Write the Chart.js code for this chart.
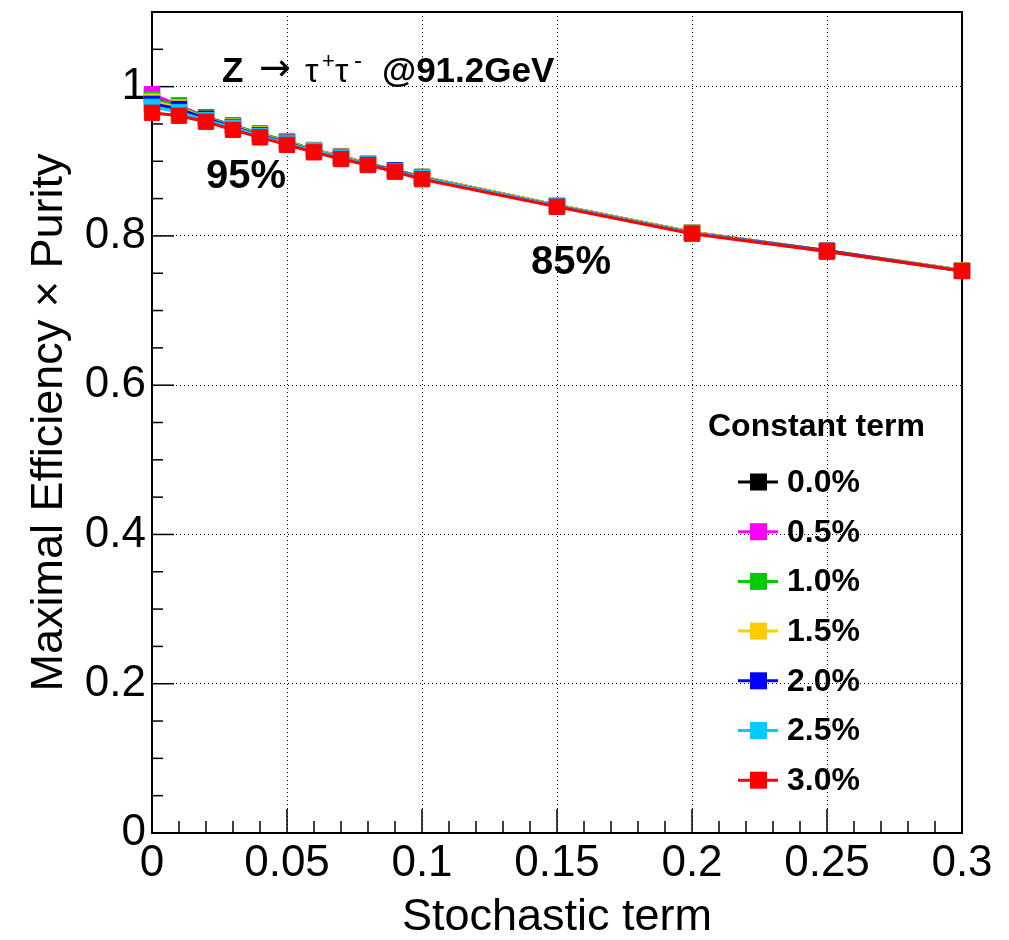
<!DOCTYPE html>
<html><head><meta charset="utf-8">
<script src="https://cdn.jsdelivr.net/npm/chart.js@4/dist/chart.umd.min.js"></script>
<style>html,body{margin:0;padding:0;background:#fff;}#wrap{width:1009px;height:940px;}</style>
</head><body><div id="wrap"><canvas id="c" width="1009" height="940"></canvas></div>
<script>
// ---- data ----
const stochastic = [0, 0.01, 0.02, 0.03, 0.04, 0.05, 0.06, 0.07, 0.08, 0.09, 0.10, 0.15, 0.20, 0.25, 0.30];
const ct00 = [0.989, 0.974, 0.959, 0.948, 0.937, 0.927, 0.915, 0.906, 0.897, 0.888, 0.879, 0.841, 0.805, 0.780, 0.754];
const ct05 = [0.990, 0.975, 0.959, 0.948, 0.937, 0.927, 0.915, 0.907, 0.897, 0.888, 0.879, 0.841, 0.805, 0.780, 0.754];
const ct10 = [0.983, 0.974, 0.958, 0.948, 0.937, 0.927, 0.915, 0.906, 0.897, 0.888, 0.879, 0.841, 0.805, 0.780, 0.754];
const ct15 = [0.980, 0.972, 0.957, 0.947, 0.936, 0.926, 0.915, 0.906, 0.897, 0.888, 0.879, 0.841, 0.805, 0.780, 0.754];
const ct20 = [0.977, 0.970, 0.957, 0.946, 0.935, 0.925, 0.914, 0.905, 0.896, 0.888, 0.878, 0.840, 0.804, 0.780, 0.753];
const ct25 = [0.973, 0.966, 0.955, 0.945, 0.934, 0.924, 0.914, 0.905, 0.896, 0.887, 0.878, 0.840, 0.804, 0.779, 0.753];
const ct30 = [0.965, 0.961, 0.953, 0.942, 0.932, 0.922, 0.912, 0.903, 0.895, 0.886, 0.876, 0.839, 0.803, 0.779, 0.753];
const seriesValues = [ct00, ct05, ct10, ct15, ct20, ct25, ct30];
const seriesLabels = ['0.0%', '0.5%', '1.0%', '1.5%', '2.0%', '2.5%', '3.0%'];
const seriesColors = ['#000000', '#ff00ff', '#00cc00', '#ffcc00', '#0000ff', '#00ccff', '#ff0000'];
const xTickValues = [0, 0.05, 0.1, 0.15, 0.2, 0.25, 0.3];
const xTickLabels = ['0', '0.05', '0.1', '0.15', '0.2', '0.25', '0.3'];
const yTickValues = [0, 0.2, 0.4, 0.6, 0.8, 1.0];
const yTickLabels = ['0', '0.2', '0.4', '0.6', '0.8', '1'];
const xTitle = 'Stochastic term';
const yTitle = 'Maximal Efficiency \u00d7 Purity';
const legendTitle = 'Constant term';
const pct95 = '95%';
const pct85 = '85%';

const FONT = '"Liberation Sans", Arial, Helvetica, sans-serif';

const datasets = seriesValues.map((vals, i) => ({
  label: seriesLabels[i],
  data: stochastic.map((x, j) => ({x: x, y: vals[j]})),
  borderColor: seriesColors[i],
  backgroundColor: seriesColors[i],
  borderWidth: 3,
  pointStyle: 'rect',
  pointRadius: 10.8,
  pointBorderWidth: 1,
  pointBorderColor: seriesColors[i],
  pointBackgroundColor: seriesColors[i],
  tension: 0,
  clip: false,
  order: seriesValues.length - 1 - i
}));

const framePlugin = {
  id: 'rootFrame',
  beforeDatasetsDraw(chart) {
    const {ctx, chartArea: a, scales: {x, y}} = chart;
    ctx.save();
    ctx.strokeStyle = '#000';
    ctx.lineWidth = 1.5;
    for (let k = 0; k <= 30; k++) {
      const px = x.getPixelForValue(k * 0.01);
      const len = (k % 5 === 0) ? 24 : 12;
      ctx.beginPath(); ctx.moveTo(px, a.bottom); ctx.lineTo(px, a.bottom - len); ctx.stroke();
    }
    for (let k = 0; k <= 22; k++) {
      const py = y.getPixelForValue(k * 0.05);
      const len = (k % 4 === 0) ? 22 : 11;
      ctx.beginPath(); ctx.moveTo(a.left, py); ctx.lineTo(a.left + len, py); ctx.stroke();
    }
    ctx.lineWidth = 2;
    ctx.strokeRect(a.left, a.top, a.right - a.left, a.bottom - a.top);
    ctx.restore();
  },
  afterDatasetsDraw(chart) {
    const ctx = chart.ctx;
    ctx.save();
    ctx.fillStyle = '#000';
    ctx.textBaseline = 'alphabetic';
    ctx.textAlign = 'left';
    ctx.font = 'bold 35px ' + FONT;
    ctx.fillText('Z', 222, 82);
    ctx.font = '38px "DejaVu Sans", ' + FONT;
    ctx.fillText('\u2192', 259, 80);
    ctx.font = '34px ' + FONT;
    ctx.fillText('\u03c4', 305, 82);
    ctx.font = '22px ' + FONT;
    ctx.fillText('+', 322, 68);
    ctx.font = '34px ' + FONT;
    ctx.fillText('\u03c4', 335, 82);
    ctx.font = '24px ' + FONT;
    ctx.fillText('-', 354, 68);
    ctx.font = 'bold 35px ' + FONT;
    ctx.fillText('@91.2GeV', 382, 82);
    ctx.font = 'bold 40px ' + FONT;
    ctx.fillText(pct95, 206, 188);
    ctx.fillText(pct85, 531, 274);
    ctx.restore();
  },
  afterDraw(chart) {
    const ctx = chart.ctx;
    ctx.save();
    ctx.textBaseline = 'middle';
    ctx.textAlign = 'left';
    ctx.fillStyle = '#000';
    ctx.font = 'bold 32px ' + FONT;
    ctx.fillText(legendTitle, 708, 427);
    chart.data.datasets.forEach((ds, i) => {
      const yy = 482 + i * 49.7;
      ctx.strokeStyle = ds.borderColor;
      ctx.lineWidth = 3;
      ctx.beginPath(); ctx.moveTo(738, yy); ctx.lineTo(778, yy); ctx.stroke();
      ctx.fillStyle = ds.borderColor;
      ctx.fillRect(750, yy - 8.5, 17, 17);
      ctx.fillStyle = '#000';
      ctx.font = 'bold 32px ' + FONT;
      ctx.fillText(ds.label, 787, yy + 1);
    });
    ctx.restore();
  }
};

new Chart(document.getElementById('c'), {
  type: 'line',
  data: {datasets: datasets},
  plugins: [framePlugin],
  options: {
    responsive: false,
    animation: false,
    devicePixelRatio: 1,
    events: [],
    layout: {padding: {top: 12, right: 47, left: 0, bottom: 0}},
    plugins: {legend: {display: false}, tooltip: {enabled: false}, title: {display: false}},
    scales: {
      x: {
        type: 'linear', min: 0, max: 0.3,
        afterBuildTicks: s => { s.ticks = xTickValues.map(v => ({value: v})); },
        afterFit: s => { s.height = 107; s.paddingLeft = 0; s.paddingRight = 0; },
        ticks: {
          color: '#000', padding: 4, maxRotation: 0, autoSkip: false,
          font: {family: FONT, size: 44},
          callback: (v, i) => xTickLabels[i]
        },
        grid: {color: '#000', lineWidth: 1, drawTicks: false},
        border: {display: false, dash: [1, 3]},
        title: {display: true, text: xTitle, color: '#000', font: {family: FONT, size: 45, lineHeight: 1}, padding: {top: 0, bottom: 0}}
      },
      y: {
        type: 'linear', min: 0, max: 1.1,
        afterBuildTicks: s => { s.ticks = yTickValues.map(v => ({value: v})); },
        afterFit: s => { s.width = 152; s.paddingTop = 0; s.paddingBottom = 0; },
        ticks: {
          color: '#000', padding: 6, autoSkip: false,
          font: {family: FONT, size: 44},
          callback: (v, i) => yTickLabels[i]
        },
        grid: {color: '#000', lineWidth: 1, drawTicks: false},
        border: {display: false, dash: [1, 3]},
        title: {display: true, text: yTitle, color: '#000', font: {family: FONT, size: 45, lineHeight: 1}, padding: {top: 27, bottom: 0}}
      }
    }
  }
});
</script>
</body></html>
